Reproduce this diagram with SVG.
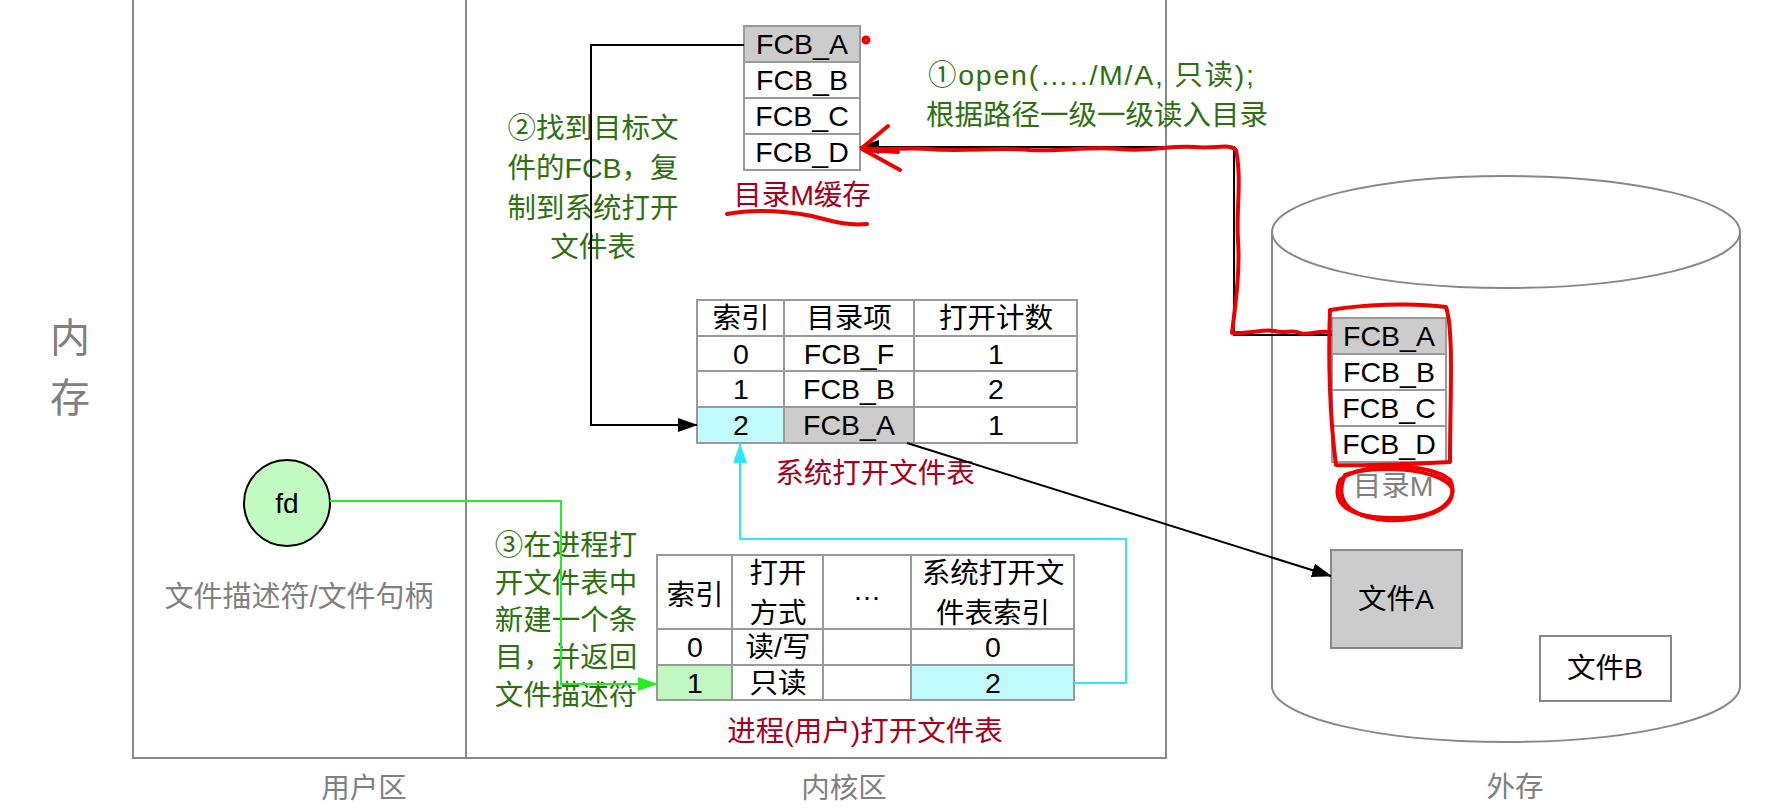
<svg xmlns="http://www.w3.org/2000/svg" width="1792" height="808" viewBox="0 0 1792 808">
<defs>
<style>
text{font-family:"Liberation Sans","Noto Sans CJK SC",sans-serif;font-size:28.5px;dominant-baseline:central;text-anchor:middle;fill:#000}
.grey{fill:#808080}
.green{fill:#2e7010}
.red{fill:#a3001e}
.cell{stroke:#999;stroke-width:2;fill:#fff}
.gcell{stroke:#999;stroke-width:2;fill:#cccccc}
.ccell{stroke:#999;stroke-width:2;fill:#c0fafa}
.lgcell{stroke:#999;stroke-width:2;fill:#c2f7c2}
.frame{stroke:#888;stroke-width:2;fill:none}
.conn{fill:none;stroke-width:2}
.ink{fill:none;stroke:#ee0000;stroke-width:4;stroke-linecap:round;stroke-linejoin:round}
</style>
<marker id="ab" viewBox="0 0 20 14" refX="19" refY="7" markerWidth="20" markerHeight="14" markerUnits="userSpaceOnUse" orient="auto"><path d="M0,0 L20,7 L0,14 Z" fill="#000"/></marker>
<marker id="ag" viewBox="0 0 20 14" refX="19" refY="7" markerWidth="20" markerHeight="14" markerUnits="userSpaceOnUse" orient="auto"><path d="M0,0 L20,7 L0,14 Z" fill="#22ee22"/></marker>
<marker id="ac" viewBox="0 0 20 14" refX="19" refY="7" markerWidth="20" markerHeight="14" markerUnits="userSpaceOnUse" orient="auto"><path d="M0,0 L20,7 L0,14 Z" fill="#33e6f6"/></marker>
</defs>
<rect x="0" y="0" width="1792" height="808" fill="#fff"/>

<g id="regions">
<rect class="frame" x="133" y="-4" width="1033" height="762"/>
<line class="frame" x1="466" y1="-4" x2="466" y2="758"/>
<text class="grey" x="70" y="338" style="font-size:40px">内</text>
<text class="grey" x="70" y="398" style="font-size:40px">存</text>
<text class="grey" x="364" y="788">用户区</text>
<text class="grey" x="844" y="788">内核区</text>
<text class="grey" x="1515" y="787">外存</text>
</g>

<g id="disk">
<path d="M1272,232 L1272,686 A234,56 0 0 0 1740,686 L1740,232" fill="#fff" stroke="#888" stroke-width="2"/>
<ellipse cx="1506" cy="232" rx="234" ry="56" fill="#fff" stroke="#888" stroke-width="2"/>
</g>

<g id="dir-m">
<rect class="gcell" x="1332" y="318" width="114" height="36"/>
<rect class="cell" x="1332" y="354" width="114" height="36"/>
<rect class="cell" x="1332" y="390" width="114" height="36"/>
<rect class="cell" x="1332" y="426" width="114" height="36"/>
<text x="1389" y="336">FCB_A</text>
<text x="1389" y="372">FCB_B</text>
<text x="1389" y="408">FCB_C</text>
<text x="1389" y="444">FCB_D</text>
<text class="grey" x="1393" y="486">目录M</text>
</g>

<g id="file-a">
<rect x="1331" y="550" width="131" height="98" fill="#ccc" stroke="#888" stroke-width="2"/>
<text x="1396" y="599">文件A</text>
</g>
<g id="file-b">
<rect x="1540" y="636" width="131" height="65" fill="#fff" stroke="#888" stroke-width="2"/>
<text x="1605" y="668">文件B</text>
</g>

<g id="dir-cache">
<rect class="gcell" x="744" y="26" width="116" height="36"/>
<rect class="cell" x="744" y="62" width="116" height="36"/>
<rect class="cell" x="744" y="98" width="116" height="36"/>
<rect class="cell" x="744" y="134" width="116" height="36"/>
<text x="802" y="44">FCB_A</text>
<text x="802" y="80">FCB_B</text>
<text x="802" y="116">FCB_C</text>
<text x="802" y="152">FCB_D</text>
<text class="red" x="802" y="195">目录M缓存</text>
</g>

<g id="sys-table">
<rect class="cell" x="697" y="300" width="87" height="36"/>
<rect class="cell" x="784" y="300" width="130" height="36"/>
<rect class="cell" x="914" y="300" width="163" height="36"/>
<rect class="cell" x="697" y="336" width="87" height="35"/>
<rect class="cell" x="784" y="336" width="130" height="35"/>
<rect class="cell" x="914" y="336" width="163" height="35"/>
<rect class="cell" x="697" y="371" width="87" height="36"/>
<rect class="cell" x="784" y="371" width="130" height="36"/>
<rect class="cell" x="914" y="371" width="163" height="36"/>
<rect class="ccell" x="697" y="407" width="87" height="36"/>
<rect class="gcell" x="784" y="407" width="130" height="36"/>
<rect class="cell" x="914" y="407" width="163" height="36"/>
<text x="741" y="318">索引</text><text x="849" y="318">目录项</text><text x="996" y="318">打开计数</text>
<text x="741" y="354">0</text><text x="849" y="354">FCB_F</text><text x="996" y="354">1</text>
<text x="741" y="389">1</text><text x="849" y="389">FCB_B</text><text x="996" y="389">2</text>
<text x="741" y="425">2</text><text x="849" y="425">FCB_A</text><text x="996" y="425">1</text>
<text class="red" x="875" y="473">系统打开文件表</text>
</g>

<g id="proc-table">
<rect class="cell" x="657" y="555" width="75" height="74"/>
<rect class="cell" x="732" y="555" width="91" height="74"/>
<rect class="cell" x="823" y="555" width="88" height="74"/>
<rect class="cell" x="911" y="555" width="163" height="74"/>
<rect class="cell" x="657" y="629" width="75" height="36"/>
<rect class="cell" x="732" y="629" width="91" height="36"/>
<rect class="cell" x="823" y="629" width="88" height="36"/>
<rect class="cell" x="911" y="629" width="163" height="36"/>
<rect class="lgcell" x="657" y="665" width="75" height="35"/>
<rect class="cell" x="732" y="665" width="91" height="35"/>
<rect class="cell" x="823" y="665" width="88" height="35"/>
<rect class="ccell" x="911" y="665" width="163" height="35"/>
<text x="695" y="595">索引</text>
<text x="778" y="573">打开</text><text x="778" y="613">方式</text>
<text x="867" y="590">…</text>
<text x="993" y="573">系统打开文</text><text x="993" y="613">件表索引</text>
<text x="695" y="647">0</text><text x="778" y="647">读/写</text><text x="993" y="647">0</text>
<text x="695" y="683">1</text><text x="778" y="683">只读</text><text x="993" y="683">2</text>
<text class="red" x="865" y="731">进程(用户)打开文件表</text>
</g>

<g id="fd">
<circle cx="287" cy="503" r="43" fill="#c2fbc2" stroke="#000" stroke-width="2"/>
<text x="287" y="503" style="font-size:28px">fd</text>
<text class="grey" x="299" y="597" style="font-size:29px">文件描述符/文件句柄</text>
</g>

<g id="notes">
<text class="green" x="1091" y="75" textLength="326" lengthAdjust="spacing">①open(…../M/A, 只读);</text>
<text class="green" x="1097" y="115">根据路径一级一级读入目录</text>
<text class="green" x="593" y="128">②找到目标文</text>
<text class="green" x="593" y="168">件的FCB，复</text>
<text class="green" x="593" y="208">制到系统打开</text>
<text class="green" x="593" y="247">文件表</text>
<text class="green" x="566" y="545">③在进程打</text>
<text class="green" x="566" y="583">开文件表中</text>
<text class="green" x="566" y="620">新建一个条</text>
<text class="green" x="566" y="657">目，并返回</text>
<text class="green" x="566" y="695">文件描述符</text>
</g>

<g id="connectors">
<path class="conn" stroke="#000" d="M744,45 L591,45 L591,425 L697,425" marker-end="url(#ab)"/>
<path class="conn" stroke="#000" d="M907,443 L1331,576" marker-end="url(#ab)"/>
<path class="conn" stroke="#000" d="M1332,335 L1234,335 L1234,147 L860,147" marker-end="url(#ab)"/>
<path class="conn" stroke="#22ee22" d="M330,501 L561,501 L561,684 L657,684" marker-end="url(#ag)"/>
<path class="conn" stroke="#33e6f6" d="M1074,683 L1126,683 L1126,539 L740,539 L740,444" marker-end="url(#ac)"/>
</g>

<g id="red-ink">
<circle class="ink" cx="866" cy="40" r="2.5" stroke-width="2"/>
<path class="ink" d="M727,214 C760,208 790,212 812,216 C832,221 846,226 867,224"/>
<path class="ink" d="M1330,332 C1318,330 1308,336 1300,333 C1292,329 1285,334 1275,331 C1262,329 1250,334 1232,333 C1236,300 1240,270 1238,240 C1236,210 1242,180 1236,150 C1230,143 1215,149 1195,147 C1170,145 1150,152 1120,149 C1090,146 1060,152 1030,150 C1000,147 960,152 930,149 C905,147 880,151 862,148"/>
<path class="ink" d="M862,148 L888,126 M862,149 L900,170 M864,150 L898,152"/>
<path class="ink" d="M1330,310 C1360,305 1410,302 1446,307 C1454,330 1450,400 1450,462 C1410,464 1370,466 1336,465 C1330,420 1328,360 1330,310 Z"/>
<path class="ink" d="M1340,480 C1360,462 1430,462 1450,480 C1460,500 1440,518 1395,518 C1350,518 1330,505 1340,480 Z"/>
<path class="ink" d="M1345,475 C1375,464 1440,468 1452,488 C1456,510 1420,522 1385,520 C1345,516 1335,498 1345,475"/>
</g>
</svg>
